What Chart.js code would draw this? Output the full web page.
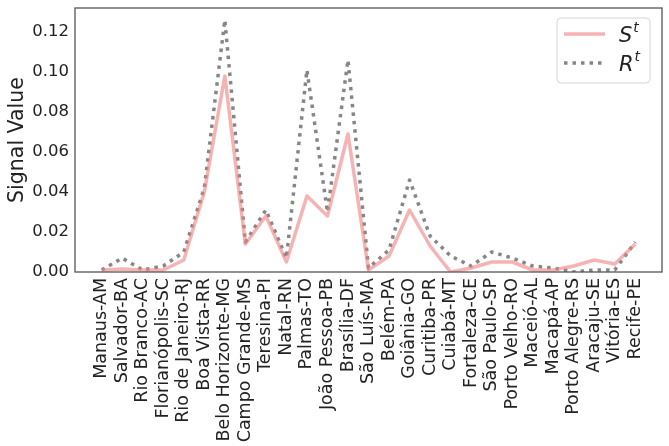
<!DOCTYPE html>
<html>
<head>
<meta charset="utf-8">
<script src="https://cdn.jsdelivr.net/npm/chart.js@4.4.1/dist/chart.umd.min.js"></script>
<style>
  html, body { margin: 0; padding: 0; background: #fff; }
  #wrap { width: 669px; height: 446px; }
</style>
</head>
<body>
<div id="wrap"><canvas id="myChart"></canvas></div>
<script>
const cities = ['Manaus-AM', 'Salvador-BA', 'Rio Branco-AC', 'Florianópolis-SC', 'Rio de Janeiro-RJ',
    'Boa Vista-RR', 'Belo Horizonte-MG', 'Campo Grande-MS', 'Teresina-PI', 'Natal-RN', 'Palmas-TO',
    'João Pessoa-PB', 'Brasília-DF', 'São Luís-MA', 'Belém-PA', 'Goiânia-GO', 'Curitiba-PR',
    'Cuiabá-MT', 'Fortaleza-CE', 'São Paulo-SP', 'Porto Velho-RO', 'Maceió-AL', 'Macapá-AP',
    'Porto Alegre-RS', 'Aracaju-SE', 'Vitória-ES', 'Recife-PE'];

const sValues = [0.001, 0.0015, 0.001, 0.001, 0.006, 0.040, 0.098, 0.014, 0.028, 0.005, 0.038,
    0.028, 0.069, 0.001, 0.008, 0.031, 0.013, 0.000, 0.002, 0.005, 0.005, 0.001, 0.001,
    0.003, 0.006, 0.004, 0.014];

const rValues = [0.001, 0.007, 0.001, 0.003, 0.010, 0.042, 0.126, 0.015, 0.031, 0.007, 0.101,
    0.030, 0.106, 0.002, 0.011, 0.046, 0.018, 0.008, 0.003, 0.010, 0.007, 0.003, 0.002,
    0.000, 0.001, 0.001, 0.015];

const yTicks = [0, 0.02, 0.04, 0.06, 0.08, 0.10, 0.12];

const pink = 'rgba(240,128,128,0.6)';
const grey = 'rgba(128,128,128,0.95)';
const font = "'DejaVu Sans', sans-serif";

// frame around the plot area + legend box inside it
const frameAndLegend = {
    id: 'frameAndLegend',
    afterDraw(chart) {
        const c = chart.ctx;
        const a = chart.chartArea;
        c.save();
        c.strokeStyle = '#555';
        c.lineWidth = 1.3;
        c.strokeRect(a.left, a.top, a.right - a.left, a.bottom - a.top);

        // legend
        const bx = 557, by = 18, bw = 93, bh = 65, r = 4;
        c.beginPath();
        c.moveTo(bx + r, by);
        c.arcTo(bx + bw, by, bx + bw, by + bh, r);
        c.arcTo(bx + bw, by + bh, bx, by + bh, r);
        c.arcTo(bx, by + bh, bx, by, r);
        c.arcTo(bx, by, bx + bw, by, r);
        c.closePath();
        c.fillStyle = 'rgba(255,255,255,0.85)';
        c.fill();
        c.strokeStyle = '#d5d5d5';
        c.lineWidth = 1;
        c.stroke();

        chart.data.datasets.forEach((ds, i) => {
            const y = 34 + i * 29;
            c.beginPath();
            c.strokeStyle = ds.borderColor;
            c.lineWidth = ds.borderWidth;
            c.setLineDash(ds.borderDash || []);
            c.moveTo(564, y);
            c.lineTo(605, y);
            c.stroke();
            c.setLineDash([]);
            c.fillStyle = '#222';
            c.textBaseline = 'alphabetic';
            c.font = 'italic 21px ' + font;
            c.fillText(ds.label[0], 619, y + 8);
            const w = c.measureText(ds.label[0]).width;
            c.font = 'italic 14px ' + font;
            c.fillText(ds.label.slice(1), 619 + w + 1, y - 2);
        });
        c.restore();
    }
};

function noPad(axis) {
    axis.paddingTop = 0;
    axis.paddingBottom = 0;
    axis.paddingLeft = 0;
    axis.paddingRight = 0;
}

new Chart(document.getElementById('myChart'), {
    type: 'line',
    data: {
        datasets: [{
            label: 'St',
            data: sValues.map((v, i) => ({ x: i, y: v })),
            borderColor: pink,
            borderWidth: 3.5,
            borderJoinStyle: 'round',
            pointRadius: 0,
            tension: 0
        }, {
            label: 'Rt',
            data: rValues.map((v, i) => ({ x: i, y: v })),
            borderColor: grey,
            borderWidth: 3.5,
            borderDash: [3.5, 5],
            borderJoinStyle: 'round',
            pointRadius: 0,
            tension: 0
        }]
    },
    options: {
        responsive: true,
        maintainAspectRatio: false,
        animation: false,
        layout: { padding: { left: 0, right: 7, top: 8, bottom: 0 } },
        plugins: {
            legend: { display: false },
            tooltip: { enabled: false }
        },
        scales: {
            x: {
                type: 'linear',
                min: -1.3,
                max: cities.length - 1 + 1.3,
                grid: { display: false, drawTicks: false },
                border: { display: false },
                afterBuildTicks: (axis) => { axis.ticks = cities.map((_, i) => ({ value: i })); },
                afterFit: (axis) => { axis.height = 174; noPad(axis); },
                ticks: {
                    autoSkip: false,
                    maxRotation: 90,
                    minRotation: 90,
                    padding: 6,
                    color: '#222',
                    font: { family: font, size: 17.5 },
                    callback: (v) => cities[v]
                }
            },
            y: {
                min: 0,
                max: 0.132,
                grid: { display: false, drawTicks: false },
                border: { display: false },
                afterBuildTicks: (axis) => { axis.ticks = yTicks.map(v => ({ value: v })); },
                afterFit: (axis) => { axis.width = 75; noPad(axis); },
                title: {
                    display: true,
                    text: 'Signal Value',
                    color: '#222',
                    font: { family: font, size: 20.5 },
                    padding: { top: 5, bottom: 3 }
                },
                ticks: {
                    padding: 6,
                    color: '#222',
                    font: { family: font, size: 16.5 },
                    callback: (v) => v.toFixed(2)
                }
            }
        }
    },
    plugins: [frameAndLegend]
});
</script>
</body>
</html>
